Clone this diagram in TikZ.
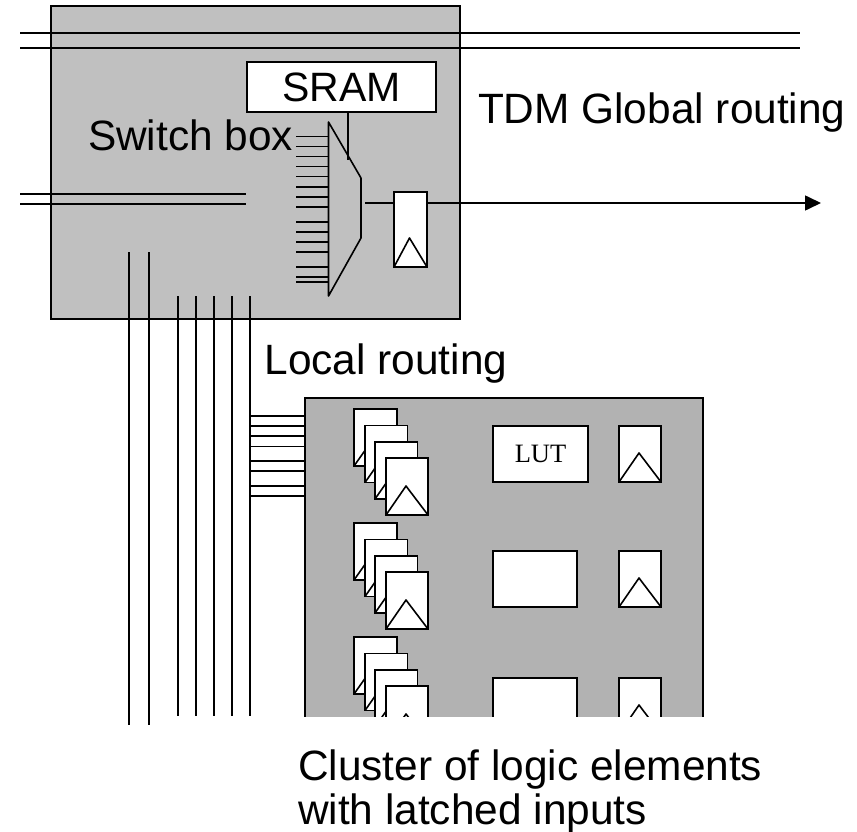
\documentclass[tikz,border=0pt]{standalone}
\usepackage{fontspec}
\setmainfont{Liberation Sans}
\newfontfamily\lutfont{Liberation Serif}
\usetikzlibrary{arrows.meta,calc}
\definecolor{upperfill}{RGB}{192,192,192}
\definecolor{lowerfill}{RGB}{178,178,178}
\tikzset{
  wire/.style={draw=black,line width=1.6pt},
  boxshape/.style={draw=black,line width=1.6pt,inner sep=0pt,outer sep=0pt,rectangle},
  whitebox/.style={boxshape,fill=white},
  caption/.style={anchor=base west,inner sep=0pt,outer sep=0pt,font=\fontsize{42.4}{47}\selectfont},
}
\newcommand{\rectnode}[7][whitebox]{% style,name,x0,y0,width,height,text
  \node[#1,minimum width=#5 pt,minimum height=#6 pt,anchor=north west] (#2) at (#3,#4) {#7};}
\newcommand{\latchcell}[6]{% name,x0,y0,width,height,apexrise
  \rectnode{#1}{#2}{#3}{#4}{#5}{}
  \coordinate (#1apex) at ($(#1.south)+(-1,-#6)$);
  \draw[wire,line join=round] (#1.south west) -- (#1apex) -- (#1.south east);}
\begin{document}
\begin{tikzpicture}[x=1pt,y=-1pt]
\useasboundingbox (0,0) rectangle (857,832);
% upper block
\rectnode[boxshape,fill=upperfill]{swbox}{51}{6}{409}{313}{}
% global routing lines
\foreach \n/\yy in {a/33,b/48}{
  \coordinate (gl\n) at (20,\yy); \coordinate (gr\n) at (800,\yy);
  \draw[wire] (gl\n) -- (gr\n);}
\foreach \n/\yy in {c/194,d/204}{
  \coordinate (gl\n) at (20,\yy); \coordinate (gr\n) at (246,\yy);
  \draw[wire] (gl\n) -- (gr\n);}
% SRAM and mux
\rectnode{sram}{247}{62}{189}{50}{\fontsize{41}{47}\selectfont SRAM}
\coordinate (muxa) at (328.5,122);
\coordinate (muxb) at (361,178);
\coordinate (muxc) at (361,238);
\coordinate (muxd) at (328.5,296);
\coordinate (muxsel) at (348,160);
\draw[wire] (sram.south -| muxsel) -- (muxsel);
\draw[wire,line join=round] (muxa) -- (muxb) -- (muxc) -- (muxd) -- cycle;
\foreach \yy [count=\i] in {136.7,146.7,156.7,166.7,176.7,186.7,196.7,206.7,221.7,231.7,241.7,251.7,266.7,276.7,281.7}{
  \coordinate (mi\i) at (296,\yy);
  \draw[wire] (mi\i) -- (328.5,\yy);}
% output latch
\latchcell{outff}{394}{192}{33}{75}{29}
\coordinate (muxout) at (365,203);
\coordinate (arrowend) at (821,203);
\draw[wire] (muxout) -- (muxout -| outff.west);
\draw[wire,-{Triangle[length=16pt,width=15pt]}] (outff.east |- arrowend) -- (arrowend);
% lower block, cut off at its lower edge
\begin{scope}
\clip (240,380) rectangle (720,716);
\rectnode[boxshape,fill=lowerfill]{cluster}{305}{398}{398}{372}{}
\foreach \r/\dy in {a/0,b/114,c/228}{
  \latchcell{l\r1}{354}{409+\dy}{43}{57}{29}
  \latchcell{l\r2}{365}{425.5+\dy}{42.5}{57}{29}
  \latchcell{l\r3}{375}{442+\dy}{42.5}{57}{29}
  \latchcell{l\r4}{386}{458+\dy}{42}{57}{29}
}
\rectnode{luta}{493}{426}{95}{56}{\lutfont\fontsize{26.5}{30}\selectfont LUT}
\rectnode{lutb}{493}{551}{84}{56}{}
\rectnode{lutc}{493}{678}{84}{56}{}
\latchcell{ffa}{619}{426}{42}{56}{29}
\latchcell{ffb}{619}{551}{42}{56}{29}
\latchcell{ffc}{619}{678}{42}{56}{29}
\end{scope}
% vertical routing
\foreach \n/\xx/\ya/\yb in {v1/129/252/725,v2/149/252/725,v3/178/296/716,v4/196/296/716,v5/214/296/716,v6/232/296/716,v7/250/296/716}{
  \coordinate (\n t) at (\xx,\ya); \coordinate (\n b) at (\xx,\yb);
  \draw[wire] (\n t) -- (\n b);}
% local routing stubs
\foreach \yy [count=\i] in {416,426,436,446.5,461,471,486,496}{
  \coordinate (st\i) at (250,\yy);
  \draw[wire] (st\i) -- (st\i -| cluster.west);}
% captions
\node[caption] (lblsw) at (88,150.5) {Switch box};
\node[caption] (lbltdm) at (478,123.5) {TDM Global routing};
\node[caption] (lblloc) at (264.5,374.5) {Local routing};
\node[caption] (lblcl) at (298,780) {Cluster of logic elements};
\node[caption] (lblin) at (298,824.5) {with latched inputs};
\end{tikzpicture}
\end{document}
